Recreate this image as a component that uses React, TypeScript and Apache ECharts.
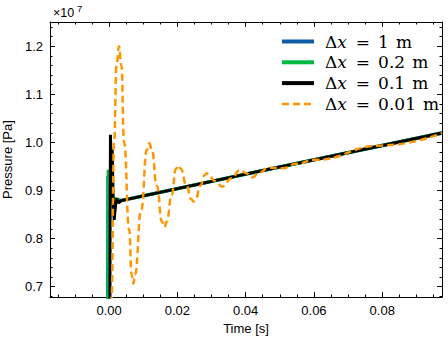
import React, { useEffect, useRef } from "react";
import * as echarts from "echarts";

// Δx values (m) for each series, in legend order
const dxLabels = ["1", "0.2", "0.1", "0.01"];

// Time [s] and pressure [×1e7 Pa]
const blueTime = [-0.0004, -0.0003, 0.0006, 0.0035, 0.04, 0.0975];
const bluePressure = [0.55, 0.93, 0.885, 0.879, 0.934, 1.0197];

const greenTime = [-0.0003, -0.0002, 0.0007, 0.0035, 0.04, 0.0975];
const greenPressure = [0.55, 0.943, 0.885, 0.879, 0.934, 1.0197];

const blackTime = [0.0002, 0.0004, 0.0007, 0.0009, 0.0012, 0.0015, 0.0019, 0.0023, 0.0028, 0.0035, 0.04, 0.0975];
const blackPressure = [0.55, 1.016, 0.93, 0.985, 0.88, 0.839, 0.87, 0.883, 0.874, 0.879, 0.934, 1.0197];

const orangeTime = [
  0.0005, 0.00073, 0.00146, 0.0022, 0.0029, 0.0036, 0.0044, 0.0059, 0.0066, 0.0071,
  0.0076, 0.0094, 0.0111, 0.0118, 0.0125, 0.014, 0.0155, 0.0162, 0.0169, 0.0183,
  0.0196, 0.0203, 0.021, 0.0226, 0.0241, 0.0247, 0.0254, 0.0267, 0.0281, 0.0286,
  0.0292, 0.0309, 0.0332, 0.0358, 0.0384, 0.0401, 0.0418, 0.0442, 0.0467, 0.0486,
  0.0506, 0.055, 0.06, 0.08, 0.0975,
];
const orangePressure = [
  0.55, 0.68, 1.0, 1.16, 1.2, 1.16, 1.0, 0.818, 0.725, 0.706,
  0.725, 0.86, 0.985, 0.998, 0.985, 0.91, 0.835, 0.824, 0.835, 0.89,
  0.945, 0.952, 0.945, 0.912, 0.882, 0.877, 0.882, 0.91, 0.933, 0.936,
  0.933, 0.92, 0.908, 0.925, 0.943, 0.936, 0.927, 0.938, 0.948, 0.947,
  0.946, 0.9555, 0.9638, 0.9936, 1.0197,
];

// Axis ticks
const xMajorTicks = [0, 0.02, 0.04, 0.06, 0.08];
const xMinorTicks = [
  -0.015, -0.01, -0.005, 0.005, 0.01, 0.015, 0.025, 0.03, 0.035, 0.045, 0.05, 0.055,
  0.065, 0.07, 0.075, 0.085, 0.09, 0.095,
];
const yMajorTicks = [0.7, 0.8, 0.9, 1.0, 1.1, 1.2];
const yMinorTicks = [
  0.68, 0.72, 0.74, 0.76, 0.78, 0.82, 0.84, 0.86, 0.88, 0.92, 0.94, 0.96, 0.98,
  1.02, 1.04, 1.06, 1.08, 1.12, 1.14, 1.16, 1.18, 1.22, 1.24,
];

const X_MIN = -0.0173;
const X_MAX = 0.0975;
const Y_MIN = 0.6786;
const Y_MAX = 1.2503;

const zip = (t: number[], p: number[]) => t.map((v, i) => [v, p[i]]);

const SANS = "Liberation Sans, Arial, sans-serif";
const SERIF = "DejaVu Serif, serif";

export default function App() {
  const ref = useRef<HTMLDivElement>(null);

  useEffect(() => {
    if (!ref.current) return;
    const chart = echarts.init(ref.current, undefined, { renderer: "svg" });

    const gridBox = { left: 50, right: 6, top: 22, bottom: 46, outerBoundsMode: "none" };
    const black = "#000";

    const majorX = (position: string, withLabels: boolean) => ({
      gridIndex: 0,
      type: "value",
      position,
      min: X_MIN,
      max: X_MAX,
      axisLine: { show: true, onZero: false, lineStyle: { color: black, width: 1 } },
      axisTick: { show: true, inside: true, length: 5, customValues: xMajorTicks, lineStyle: { color: black, width: 1 } },
      axisLabel: {
        show: withLabels,
        customValues: xMajorTicks,
        formatter: (v: number) => v.toFixed(2),
        color: black,
        fontSize: 13,
        fontFamily: SANS,
        margin: 7,
      },
      splitLine: { show: false },
      ...(withLabels
        ? {
            name: "Time [s]",
            nameLocation: "middle",
            nameGap: 25,
            nameTextStyle: { color: black, fontSize: 13, fontFamily: SANS },
          }
        : {}),
    });
    const minorX = (position: string) => ({
      gridIndex: 1,
      type: "value",
      position,
      min: X_MIN,
      max: X_MAX,
      axisLine: { show: false, onZero: false },
      axisTick: { show: true, inside: true, length: 2.5, customValues: xMinorTicks, lineStyle: { color: black, width: 1 } },
      axisLabel: { show: false },
      splitLine: { show: false },
    });
    const majorY = (position: string, withLabels: boolean) => ({
      gridIndex: 0,
      type: "value",
      position,
      min: Y_MIN,
      max: Y_MAX,
      axisLine: { show: true, onZero: false, lineStyle: { color: black, width: 1 } },
      axisTick: { show: true, inside: true, length: 5, customValues: yMajorTicks, lineStyle: { color: black, width: 1 } },
      axisLabel: {
        show: withLabels,
        customValues: yMajorTicks,
        formatter: (v: number) => v.toFixed(1),
        color: black,
        fontSize: 13,
        fontFamily: SANS,
        margin: 7,
      },
      splitLine: { show: false },
      ...(withLabels
        ? {
            name: "Pressure [Pa]",
            nameLocation: "middle",
            nameGap: 31,
            nameRotate: 90,
            nameTextStyle: { color: black, fontSize: 13, fontFamily: SANS },
          }
        : {}),
    });
    const minorY = (position: string) => ({
      gridIndex: 1,
      type: "value",
      position,
      min: Y_MIN,
      max: Y_MAX,
      axisLine: { show: false, onZero: false },
      axisTick: { show: true, inside: true, length: 2.5, customValues: yMinorTicks, lineStyle: { color: black, width: 1 } },
      axisLabel: { show: false },
      splitLine: { show: false },
    });

    const names = dxLabels.map((v) => `Δx = ${v} m`);
    const legendWidths = [4, 4, 4, 2.5];
    const lineSeries = (
      idx: number,
      t: number[],
      p: number[],
      color: string,
      width: number,
      extra: any = {}
    ) => ({
      name: names[idx],
      type: "line",
      xAxisIndex: 0,
      yAxisIndex: 0,
      data: zip(t, p),
      symbol: "none",
      clip: true,
      lineStyle: { color, width, ...(extra.lineStyle || {}) },
      itemStyle: { color },
      smooth: extra.smooth || false,
      smoothMonotone: extra.smoothMonotone,
      z: 2 + idx,
    });

    const option: any = {
      animation: false,
      backgroundColor: "#fff",
      grid: [gridBox, gridBox],
      xAxis: [majorX("bottom", true), majorX("top", false), minorX("bottom"), minorX("top")],
      yAxis: [majorY("left", true), majorY("right", false), minorY("left"), minorY("right")],
      legend: {
        orient: "vertical",
        left: 280,
        top: 33,
        itemWidth: 32,
        itemHeight: 20,
        itemGap: 3.8,
        padding: 0,
        data: names.map((n, i) => ({ name: n, lineStyle: { width: legendWidths[i] } })),
        itemStyle: { opacity: 0, borderWidth: 0 },
        formatter: (name: string) => {
          const i = names.indexOf(name);
          return `{d|Δ}{x|x}{q|=}{e|${dxLabels[i]}}{m|m}`;
        },
        textStyle: {
          color: black,
          fontFamily: SERIF,
          fontSize: 17,
          rich: {
            d: { fontFamily: SERIF, fontSize: 17, color: black, padding: [0, 0, 0, 6] },
            x: { fontFamily: SERIF, fontSize: 17, fontStyle: "italic", color: black },
            q: { fontFamily: SERIF, fontSize: 17, color: black, padding: [0, 8, 0, 9] },
            e: { fontFamily: SERIF, fontSize: 17, color: black },
            m: { fontFamily: SERIF, fontSize: 17, color: black, padding: [0, 0, 0, 7] },
          },
        },
      },
      graphic: [
        {
          type: "text",
          left: 53,
          top: 6,
          style: { text: "×10", fontSize: 12.5, fontFamily: SANS, fill: black },
        },
        {
          type: "text",
          left: 77,
          top: 3,
          style: { text: "7", fontSize: 9.5, fontFamily: SANS, fill: black },
        },
      ],
      series: [
        lineSeries(0, blueTime, bluePressure, "#0C5DA5", 3.5),
        lineSeries(1, greenTime, greenPressure, "#00B945", 3.5),
        lineSeries(2, blackTime, blackPressure, "#000000", 3),
        lineSeries(3, orangeTime, orangePressure, "#FF9500", 2.5, {
          smooth: 0.5,
          smoothMonotone: "x",
          lineStyle: { type: [7, 4] },
        }),
      ],
    };

    chart.setOption(option);
    return () => chart.dispose();
  }, []);

  return (
    <div
      ref={ref}
      style={{ position: "absolute", left: 0, top: 0, width: 448, height: 343 }}
    />
  );
}
